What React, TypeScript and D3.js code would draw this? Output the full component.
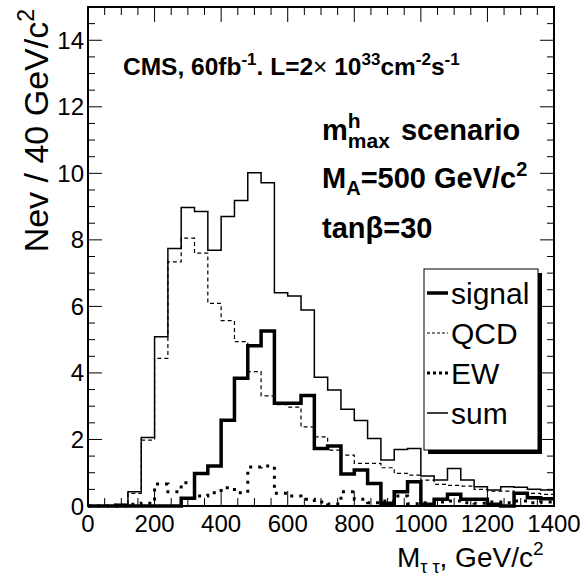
import * as d3 from "d3";

// 40 GeV bins from 0 to 1400
const binEdges = d3.range(0, 1400, 40);

const signal = [0, 0, 0, 0, 0, 0, 0, 0.23, 0.98, 1.2, 2.58, 3.84, 4.82, 5.26, 3.09, 3.09, 3.32, 1.73, 1.8, 0.96, 1.08, 0.68, 0.08, 0.43, 0.73, 0.05, 0.2, 0.35, 0.2, 0.2, 0.05, 0, 0.38, 0.25, 0.22];
const qcd = [0, 0, 0.05, 0.38, 1.98, 4.44, 7.34, 8.05, 7.6, 6.09, 5.57, 4.94, 4.04, 3.31, 3.05, 2.97, 2.38, 2.08, 1.68, 1.53, 1.28, 1.28, 1.15, 0.98, 0.93, 0.78, 0.65, 0.62, 0.6, 0.5, 0.45, 0.45, 0.4, 0.38, 0.35];
const ew = [0, 0, 0, 0.05, 0.08, 0.66, 0.43, 0.7, 0.3, 0.4, 0.55, 0.4, 1.17, 1.2, 0.38, 0.3, 0.2, 0.12, 0.06, 0.43, 0.2, 0.1, 0.15, 0.3, 0.07, 0.1, 0.12, 0.15, 0.1, 0.08, 0.12, 0.1, 0.15, 0.1, 0.12];
const sum = [0, 0, 0.05, 0.43, 2.06, 5.09, 7.74, 8.97, 8.85, 7.69, 8.7, 9.18, 10.02, 9.72, 6.41, 6.31, 5.89, 3.87, 3.49, 2.91, 2.57, 2.03, 1.38, 1.7, 1.73, 0.9, 0.78, 1.13, 0.78, 0.58, 0.48, 0.58, 0.56, 0.5, 0.48];

const xTicks = [0, 200, 400, 600, 800, 1000, 1200, 1400];
const yTicks = [0, 2, 4, 6, 8, 10, 12, 14];
const legendLabels = ["signal", "QCD", "EW", "sum"];

const width = 587;
const height = 575;
const left = 88;
const right = 554;
const top = 7;
const bottom = 506;
const font = "'Liberation Sans', Arial, Helvetica, sans-serif";

const styles = {
  signal: { strokeWidth: 3.5, dash: undefined },
  QCD: { strokeWidth: 1.2, dash: "4,3" },
  EW: { strokeWidth: 3, dash: "3,6" },
  sum: { strokeWidth: 1.5, dash: undefined },
};

export default function App() {
  const x = d3.scaleLinear().domain([0, 1400]).range([left, right]);
  const y = d3.scaleLinear().domain([0, 15]).range([bottom, top]);

  const hist = (vals: number[]) => {
    const pts: [number, number][] = vals.map((v, i) => [binEdges[i], v]);
    pts.push([1400, vals[vals.length - 1]]);
    return d3.line<[number, number]>()
      .x(d => x(d[0]))
      .y(d => y(d[1]))
      .curve(d3.curveStepAfter)(pts) as string;
  };

  const xMinor = d3.range(0, 1401, 50);
  const yMinor = d3.range(0, 15.01, 0.5);

  const series = [
    { key: "sum", vals: sum },
    { key: "QCD", vals: qcd },
    { key: "EW", vals: ew },
    { key: "signal", vals: signal },
  ];

  // legend box
  const lx0 = 424, lx1 = 538, ly0 = 269, ly1 = 450;
  const legendBase = [304, 344, 384, 424];

  return (
    <svg width={width} height={height} style={{ position: "absolute", left: 0, top: 0, background: "#fff" }} fontFamily={font}>
      <rect x={0} y={0} width={width} height={height} fill="#fff" />

      {series.map(s => {
        const st = styles[s.key as keyof typeof styles];
        return (
          <path key={s.key} d={hist(s.vals)} fill="none" stroke="#000"
            strokeWidth={st.strokeWidth} strokeDasharray={st.dash} />
        );
      })}

      {/* ticks */}
      {xMinor.map(v => {
        const major = v % 200 === 0;
        const len = major ? 15 : 8;
        return (
          <g key={"xt" + v} stroke="#000" strokeWidth={1}>
            <line x1={x(v)} x2={x(v)} y1={bottom} y2={bottom - len} />
            <line x1={x(v)} x2={x(v)} y1={top} y2={top + len} />
          </g>
        );
      })}
      {yMinor.map(v => {
        const major = Math.abs(v % 2) < 1e-6;
        const len = major ? 14 : 7;
        return (
          <g key={"yt" + v} stroke="#000" strokeWidth={1}>
            <line x1={left} x2={left + len} y1={y(v)} y2={y(v)} />
            <line x1={right} x2={right - len} y1={y(v)} y2={y(v)} />
          </g>
        );
      })}

      <rect x={left} y={top} width={right - left} height={bottom - top} fill="none" stroke="#000" strokeWidth={2} />

      {xTicks.map(v => (
        <text key={"xl" + v} x={x(v)} y={532} fontSize={24} textAnchor="middle">{v}</text>
      ))}
      {yTicks.map(v => (
        <text key={"yl" + v} x={84} y={y(v) + 8.5} fontSize={24} textAnchor="end">{v}</text>
      ))}

      {/* axis titles */}
      <text x={397} y={567} fontSize={28}>
        M<tspan dy={6} fontSize={18}>τ τ</tspan><tspan dy={-6}>, GeV/c</tspan><tspan dy={-12} fontSize={19}>2</tspan>
      </text>
      <text transform="translate(48,9) rotate(-90)" fontSize={34} textAnchor="end">
        Nev / 40 GeV/c<tspan dy={-14} fontSize={23}>2</tspan>
      </text>

      {/* annotations */}
      <text x={123} y={75} fontSize={24.5} fontWeight="bold">
        CMS, 60fb<tspan dy={-10} fontSize={17}>-1</tspan><tspan dy={10}>. L=2</tspan><tspan fontWeight="normal">×</tspan><tspan> 10</tspan><tspan dy={-10} fontSize={17}>33</tspan><tspan dy={10}>cm</tspan><tspan dy={-10} fontSize={17}>-2</tspan><tspan dy={10}>s</tspan><tspan dy={-10} fontSize={17}>-1</tspan>
      </text>
      <text x={322} y={140} fontSize={29} fontWeight="bold">
        m<tspan dy={-12} fontSize={21}>h</tspan><tspan dx={-12.8} dy={20} fontSize={21}>max</tspan><tspan dy={-8} dx={3}> scenario</tspan>
      </text>
      <text x={322} y={188} fontSize={29} fontWeight="bold">
        M<tspan dy={7} fontSize={20}>A</tspan><tspan dy={-7}>=500 GeV/c</tspan><tspan dy={-12} fontSize={20}>2</tspan>
      </text>
      <text x={322} y={238} fontSize={29} fontWeight="bold">
        tanβ=30
      </text>

      {/* legend */}
      <rect x={lx0 + 4} y={ly1} width={lx1 - lx0} height={4} fill="#000" />
      <rect x={lx1} y={ly0 + 4} width={4} height={ly1 - ly0} fill="#000" />
      <rect x={lx0} y={ly0} width={lx1 - lx0} height={ly1 - ly0} fill="#fff" stroke="#000" strokeWidth={1} />
      {legendLabels.map((lab, i) => {
        const st = styles[lab as keyof typeof styles];
        const ym = legendBase[i] - 11;
        return (
          <g key={lab}>
            <line x1={427} x2={448} y1={ym} y2={ym} stroke="#000" strokeWidth={st.strokeWidth}
              strokeDasharray={lab === "QCD" ? "3,2" : lab === "EW" ? "3,3" : undefined} />
            <text x={451} y={legendBase[i]} fontSize={30}>{lab}</text>
          </g>
        );
      })}
    </svg>
  );
}
